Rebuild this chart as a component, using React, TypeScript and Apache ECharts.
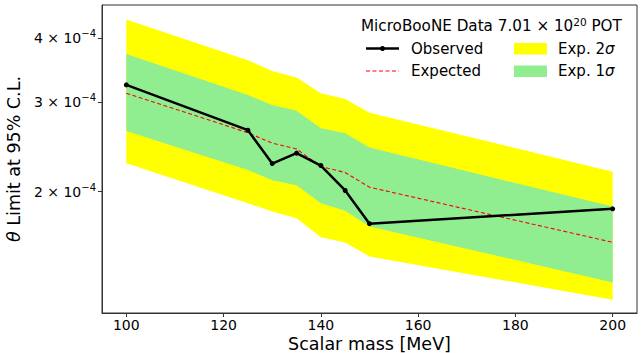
import React, { useEffect, useRef } from "react";
import * as echarts from "echarts";

const masses = [100, 125, 130, 135, 140, 145, 150, 200];
const observed = [3.24e-4, 2.64e-4, 2.27e-4, 2.38e-4, 2.25e-4, 2.01e-4, 1.73e-4, 1.85e-4];
const expected = [3.12e-4, 2.61e-4, 2.49e-4, 2.425e-4, 2.24e-4, 2.18e-4, 2.04e-4, 1.59e-4];
const exp1Lower = [2.63e-4, 2.206e-4, 2.104e-4, 2.057e-4, 1.898e-4, 1.833e-4, 1.708e-4, 1.326e-4];
const exp1Upper = [3.724e-4, 3.094e-4, 2.958e-4, 2.883e-4, 2.662e-4, 2.603e-4, 2.44e-4, 1.869e-4];
const exp2Lower = [2.273e-4, 1.898e-4, 1.827e-4, 1.773e-4, 1.627e-4, 1.589e-4, 1.491e-4, 1.227e-4];
const exp2Upper = [4.355e-4, 3.623e-4, 3.45e-4, 3.35e-4, 3.12e-4, 3.04e-4, 2.858e-4, 2.188e-4];
const xTicks = [100, 120, 140, 160, 180, 200];
const yTicks = [2e-4, 3e-4, 4e-4];

const L = Math.log10;
const FONT = "DejaVu Sans";

function bandSeries(lower: number[], upper: number[], color: string) {
  return {
    type: "custom",
    silent: true,
    data: masses.map((m, i) => [m, L(lower[i]), L(upper[i])]),
    encode: { x: 0, y: [1, 2] },
    renderItem: (params: any, api: any) => {
      if (params.dataIndex !== 0) return null;
      const pts: number[][] = [];
      for (let i = 0; i < masses.length; i++) pts.push(api.coord([masses[i], L(upper[i])]));
      for (let i = masses.length - 1; i >= 0; i--) pts.push(api.coord([masses[i], L(lower[i])]));
      return {
        type: "polygon",
        shape: { points: pts },
        style: { fill: color, stroke: "none" },
      };
    },
    z: 1,
  };
}

export default function App() {
  const ref = useRef<HTMLDivElement>(null);
  useEffect(() => {
    const chart = echarts.init(ref.current!, null, { renderer: "svg" });
    const sup = { fontSize: 10, fontFamily: FONT, color: "#000", padding: [0, 0, 9, 0] };
    const base = { fontSize: 14, fontFamily: FONT, color: "#000" };
    const LF = 15;
    chart.setOption({
      animation: false,
      grid: {
        left: 102,
        right: 4,
        top: 5,
        bottom: 40,
        show: true,
        borderColor: "#333",
        borderWidth: 1,
        backgroundColor: "transparent",
        outerBoundsMode: "none",
        containLabel: false,
      },
      xAxis: {
        type: "value",
        min: 95,
        max: 205,
        axisLine: { show: true, lineStyle: { color: "#333", width: 1 } },
        axisTick: { show: true, inside: false, length: 4, customValues: xTicks, lineStyle: { color: "#333" } },
        axisLabel: { customValues: xTicks, margin: 5, fontSize: 14, fontFamily: FONT, color: "#000" },
        splitLine: { show: false },
        name: "Scalar mass [MeV]",
        nameLocation: "middle",
        nameGap: 22,
        nameMoveOverlap: false,
        nameTextStyle: { fontSize: 17.5, fontFamily: FONT, color: "#000" },
      },
      yAxis: {
        type: "value",
        min: L(1.155e-4),
        max: L(4.65e-4),
        axisLine: { show: true, lineStyle: { color: "#333", width: 1 } },
        axisTick: {
          show: true,
          inside: false,
          length: 4,
          customValues: yTicks.map((v) => L(v)),
          lineStyle: { color: "#333" },
        },
        axisLabel: {
          customValues: yTicks.map((v) => L(v)),
          margin: 6,
          formatter: (v: number) => {
            const m = Math.round(Math.pow(10, v + 4));
            return `{a|${m} × 10}{s|−4}`;
          },
          rich: { a: base, s: sup },
        },
        splitLine: { show: false },
        name: "{t|θ}{n| Limit at 95% C.L.}",
        nameLocation: "middle",
        nameGap: 74,
        nameRotate: 90,
        nameTextStyle: {
          rich: {
            t: { fontSize: 17.5, fontFamily: FONT, fontStyle: "italic", color: "#000" },
            n: { fontSize: 17.5, fontFamily: FONT, color: "#000" },
          },
        },
      },
      series: [
        bandSeries(exp2Lower, exp2Upper, "#ffff00"),
        bandSeries(exp1Lower, exp1Upper, "#90ee90"),
        {
          type: "line",
          data: masses.map((m, i) => [m, L(expected[i])]),
          showSymbol: false,
          symbol: "none",
          lineStyle: { color: "#ff0000", width: 1.1, type: [4, 2.5] },
          z: 3,
        },
        {
          type: "line",
          data: masses.map((m, i) => [m, L(observed[i])]),
          symbol: "circle",
          symbolSize: 5,
          itemStyle: { color: "#000" },
          lineStyle: { color: "#000", width: 2.5 },
          z: 4,
        },
      ],
      graphic: [
        {
          type: "text",
          x: 361,
          y: 26,
          style: {
            text: "{a|MicroBooNE Data 7.01 × 10}{s|20}{a| POT}",
            verticalAlign: "middle",
            rich: { a: { fontSize: 15.2, fontFamily: FONT, color: "#000" }, s: { fontSize: 10.5, fontFamily: FONT, color: "#000", padding: [0, 0, 9, 0] } },
          },
        },
        { type: "line", shape: { x1: 366, y1: 48.5, x2: 399, y2: 48.5 }, style: { stroke: "#000", lineWidth: 2.5 } },
        { type: "circle", shape: { cx: 382.5, cy: 48.5, r: 2.5 }, style: { fill: "#000" } },
        { type: "text", x: 411, y: 48.5, style: { text: "Observed", fontSize: LF, fontFamily: FONT, fill: "#000", verticalAlign: "middle" } },
        { type: "line", shape: { x1: 366, y1: 71, x2: 399, y2: 71 }, style: { stroke: "#ff0000", lineWidth: 1.1, lineDash: [4, 2.5] } },
        { type: "text", x: 411, y: 71, style: { text: "Expected", fontSize: LF, fontFamily: FONT, fill: "#000", verticalAlign: "middle" } },
        { type: "rect", shape: { x: 514, y: 43, width: 33, height: 11.5 }, style: { fill: "#ffff00" } },
        {
          type: "text",
          x: 558,
          y: 48.5,
          style: {
            text: "{a|Exp. 2}{b|σ}",
            verticalAlign: "middle",
            rich: { a: { fontSize: LF, fontFamily: FONT, color: "#000" }, b: { fontSize: LF, fontFamily: FONT, fontStyle: "italic", color: "#000" } },
          },
        },
        { type: "rect", shape: { x: 514, y: 65.5, width: 33, height: 11.5 }, style: { fill: "#90ee90" } },
        {
          type: "text",
          x: 558,
          y: 71,
          style: {
            text: "{a|Exp. 1}{b|σ}",
            verticalAlign: "middle",
            rich: { a: { fontSize: LF, fontFamily: FONT, color: "#000" }, b: { fontSize: LF, fontFamily: FONT, fontStyle: "italic", color: "#000" } },
          },
        },
      ],
    });
    return () => chart.dispose();
  }, []);
  return (
    <div
      ref={ref}
      style={{ position: "fixed", left: 0, top: 0, width: 641, height: 353, background: "#fff" }}
    />
  );
}
